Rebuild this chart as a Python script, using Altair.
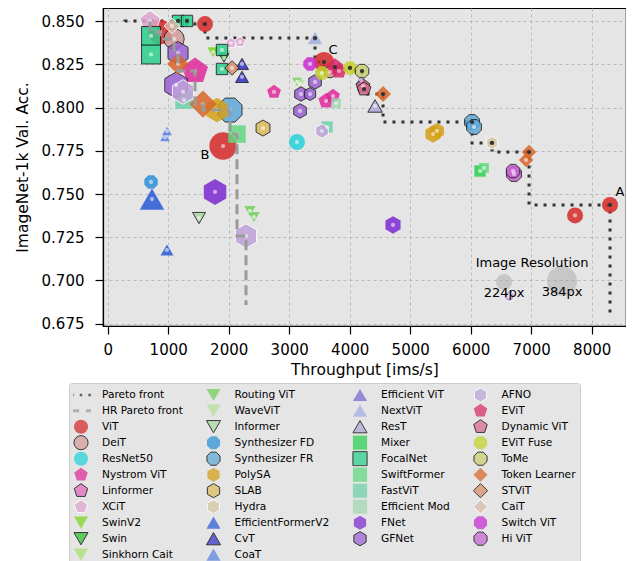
import altair as alt
import pandas as pd

# ---------------- legend columns (as in the reference) ----------------
col1 = ["Pareto front", "HR Pareto front", "ViT", "DeiT", "ResNet50", "Nystrom ViT",
        "Linformer", "XCiT", "SwinV2", "Swin", "Sinkhorn Cait"]
col2 = ["Routing ViT", "WaveViT", "Informer", "Synthesizer FD", "Synthesizer FR", "PolySA",
        "SLAB", "Hydra", "EfficientFormerV2", "CvT", "CoaT"]
col3 = ["Efficient ViT", "NextViT", "ResT", "Mixer", "FocalNet", "SwiftFormer", "FastViT",
        "Efficient Mod", "FNet", "GFNet"]
col4 = ["AFNO", "EViT", "Dynamic ViT", "EViT Fuse", "ToMe", "Token Learner", "STViT",
        "CaiT", "Switch ViT", "Hi ViT"]

# ---------------- data points ----------------
pt_model = [
    "XCiT", "ViT", "FocalNet", "FocalNet", "CaiT", "DeiT", "FocalNet", "FocalNet", "GFNet", "Token Learner",
    "Nystrom ViT", "GFNet", "AFNO", "FastViT", "Token Learner", "PolySA", "Synthesizer FR", "SwiftFormer", "ViT", "CoaT",
    "CoaT", "SLAB", "ResNet50", "ViT", "XCiT", "XCiT", "SwinV2", "FocalNet", "FocalNet", "Swin",
    "STViT", "CvT", "CvT", "Nystrom ViT", "Switch ViT", "GFNet", "GFNet", "GFNet", "GFNet", "Routing ViT",
    "ViT", "EViT Fuse", "DeiT", "EViT", "EViT", "EViT Fuse", "ToMe", "Efficient ViT", "Dynamic ViT", "Dynamic ViT",
    "Token Learner", "ResT", "Nystrom ViT", "Nystrom ViT", "Efficient Mod", "AFNO", "FastViT", "NextViT", "PolySA", "PolySA",
    "Synthesizer FR", "Synthesizer FR", "Hydra", "Token Learner", "Token Learner", "Mixer", "SwiftFormer", "Hi ViT", "Hi ViT", "ViT",
    "ViT", "AFNO", "FNet", "Synthesizer FD", "EfficientFormerV2", "FNet", "Informer", "EfficientFormerV2", "Routing ViT", "Routing ViT",
    "AFNO", "WaveViT"]
pt_throughput = [
    699, 865, 716, 716, 1063, 1096, 1162, 1311, 1162, 1162,
    1443, 1129, 1245, 1261, 1575, 1807, 2022, 2137, 1906, 980,
    947, 2567, 3129, 1608, 2038, 2187, 1741, 1889, 1889, 1922,
    2055, 2220, 2220, 2749, 3344, 3427, 3195, 3344, 3179, 3129,
    3575, 3542, 3675, 3757, 3823, 4005, 4204, 4187, 4220, 4237,
    4551, 4419, 3609, 3724, 3774, 3542, 3625, 3427, 5377, 5443,
    6022, 6055, 6353, 6964, 6915, 6154, 6220, 6716, 6700, 7725,
    8303, 6634, 4716, 716, 732, 1774, 1509, 980, 2352, 2418,
    2286, 3179]
pt_acc = [
    0.8500, 0.8438, 0.8415, 0.8308, 0.8473, 0.8398, 0.8502, 0.8502, 0.8316, 0.8253,
    0.8212, 0.8131, 0.8091, 0.8044, 0.8021, 0.7986, 0.7986, 0.7847, 0.7778, 0.7865,
    0.7830, 0.7882, 0.7801, 0.8484, 0.8374, 0.8380, 0.8322, 0.8334, 0.8224, 0.8288,
    0.8230, 0.8253, 0.8178, 0.8091, 0.8253, 0.8149, 0.8079, 0.8079, 0.7981, 0.8149,
    0.8264, 0.8201, 0.8206, 0.8235, 0.8212, 0.8230, 0.8212, 0.8160, 0.8125, 0.8108,
    0.8079, 0.8010, 0.8039, 0.8067, 0.8027, 0.7865, 0.7888, 0.8403, 0.7847, 0.7865,
    0.7917, 0.7888, 0.7796, 0.7743, 0.7697, 0.7633, 0.7651, 0.7616, 0.7633, 0.7376,
    0.7437, 0.6909, 0.7321, 0.7570, 0.7471, 0.7512, 0.7361, 0.7176, 0.7402, 0.7367,
    0.7257, 0.8137]
pt_res = [
    288, 320, 256, 256, 224, 272, 176, 176, 304, 288,
    352, 336, 320, 240, 352, 320, 336, 240, 352, 160,
    160, 224, 224, 224, 176, 176, 176, 176, 176, 160,
    208, 192, 192, 208, 208, 208, 208, 192, 208, 160,
    272, 208, 176, 240, 224, 208, 208, 176, 208, 208,
    224, 208, 224, 208, 160, 208, 176, 208, 240, 224,
    224, 224, 192, 208, 208, 176, 160, 224, 208, 224,
    224, 176, 240, 208, 320, 336, 192, 192, 176, 176,
    320, 160]
pt_front = [
    0, 0, 0, 0, 0, 0, 1, 1, 0, 0,
    0, 0, 0, 0, 0, 0, 0, 0, 0, 0,
    0, 0, 0, 1, 0, 0, 0, 0, 0, 0,
    0, 0, 0, 0, 0, 0, 0, 0, 0, 0,
    1, 0, 0, 1, 0, 1, 1, 0, 0, 1,
    1, 0, 0, 0, 0, 0, 0, 1, 0, 0,
    1, 0, 1, 1, 0, 0, 0, 0, 0, 0,
    1, 0, 0, 0, 0, 0, 0, 0, 0, 0,
    0, 0]

# Pareto fronts
pareto_x = [286, 1162, 1311, 1608, 3427, 3575, 3757, 4005, 4204, 4237, 4551, 6022, 6353, 6964, 8303, 8303]
pareto_y = [0.8499, 0.8502, 0.8502, 0.8484, 0.8403, 0.8264, 0.8235, 0.8230, 0.8212, 0.8108,
            0.8079, 0.7917, 0.7796, 0.7743, 0.7437, 0.6783]
hr_x = [699, 865, 1096, 1162, 1443, 1575, 2022, 2137, 2286, 2286]
hr_y = [0.8500, 0.8438, 0.8398, 0.8316, 0.8212, 0.8021, 0.7986, 0.7847, 0.7257, 0.6857]

# annotations
ann_text = ["A", "B", "C"]
ann_x = [8469, 1608, 3725]
ann_y = [0.7512, 0.7726, 0.8334]

res_demo_res = [224, 384]
res_demo_x = [6551, 7510]
res_demo_y = [0.6991, 0.6996]
res_demo_label = ["224px", "384px"]
res_title = "Image Resolution"
res_title_x = 7014
res_title_y = 0.7101

# ---------------- styles ----------------
PENT = "M0,-1L0.951,-0.309L0.588,0.809L-0.588,0.809L-0.951,-0.309Z"
HEX = "M0,-1L0.866,-0.5L0.866,0.5L0,1L-0.866,0.5L-0.866,-0.5Z"
OCT = ("M-0.383,-0.924L0.383,-0.924L0.924,-0.383L0.924,0.383L0.383,0.924L-0.383,0.924"
       "L-0.924,0.383L-0.924,-0.383Z")


def rect(x0, x1, h):
    return f"M{x0},{-h}L{x1},{-h}L{x1},{h}L{x0},{h}Z"


DOTS = " ".join([rect(-1.4, -1.04, 0.19), rect(-0.18, 0.18, 0.19), rect(1.04, 1.4, 0.19)])
DASH = " ".join([rect(-1.4, -0.25, 0.21), rect(0.7, 1.4, 0.21)])
K = "#1a1a1a"
N = "transparent"
W = "#ffffff"
BLANK = " "
style = {
    "Pareto front": ("#333333", DOTS, N),
    "HR Pareto front": ("#9a9a9a", DASH, N),
    "ViT": ("#d62a2a", "circle", N),
    "DeiT": ("#d49a9a", "circle", K),
    "ResNet50": ("#25d3d9", "circle", N),
    "Nystrom ViT": ("#e0289a", PENT, N),
    "Linformer": ("#e066c0", PENT, K),
    "XCiT": ("#dda6cf", PENT, W),
    "SwinV2": ("#7ed321", "triangle-down", N),
    "Swin": ("#2ec02e", "triangle-down", K),
    "Sinkhorn Cait": ("#a6e06a", "triangle-down", N),
    "Routing ViT": ("#72d05a", "triangle-down", N),
    "WaveViT": ("#b5e09a", "triangle-down", N),
    "Informer": ("#a8d8a0", "triangle-down", K),
    "Synthesizer FD": ("#2a90d8", OCT, N),
    "Synthesizer FR": ("#5fa8d8", OCT, K),
    "PolySA": ("#d4a017", HEX, N),
    "SLAB": ("#dcba5a", HEX, K),
    "Hydra": ("#d6c8a0", HEX, W),
    "EfficientFormerV2": ("#2a5ad8", "triangle-up", N),
    "CvT": ("#3030c8", "triangle-up", K),
    "CoaT": ("#5a82e0", "triangle-up", N),
    "Efficient ViT": ("#7a68d0", "triangle-up", N),
    "NextViT": ("#a2b0e0", "triangle-up", N),
    "ResT": ("#b0a8d8", "triangle-up", K),
    "Mixer": ("#2ad050", "square", N),
    "FocalNet": ("#2ad08c", "square", K),
    "SwiftFormer": ("#62d880", "square", N),
    "FastViT": ("#6fd0a8", "square", N),
    "Efficient Mod": ("#a0d8b0", "square", N),
    "FNet": ("#7b2ad0", HEX, N),
    "GFNet": ("#9a62d4", HEX, K),
    "AFNO": ("#c0a2d8", HEX, W),
    "EViT": ("#d82a6a", PENT, N),
    "Dynamic ViT": ("#d86a90", PENT, K),
    "EViT Fuse": ("#c4d22a", OCT, N),
    "ToMe": ("#c8d070", OCT, K),
    "Token Learner": ("#d8662a", "diamond", N),
    "STViT": ("#d8906a", "diamond", K),
    "CaiT": ("#d8b8a8", "diamond", W),
    "Switch ViT": ("#c82ad2", OCT, N),
    "Hi ViT": ("#c864d2", OCT, K),
    BLANK: (N, "circle", N),
}

# Vega fills legend columns top-to-bottom; a blank slot keeps column 3 at 10 entries
legend_order = col1 + col2 + col3 + [BLANK] + col4
draw_rank = {m: k for k, m in enumerate(col1 + col2 + col3 + col4)}

fill_range = [style[m][0] for m in legend_order]
shape_range = [style[m][1] for m in legend_order]
stroke_range = [style[m][2] for m in legend_order]

df = pd.DataFrame({"model": pt_model, "throughput": pt_throughput, "acc": pt_acc,
                   "res": pt_res, "front": pt_front})
df["draw"] = [draw_rank[m] * 100 + i for i, m in enumerate(df["model"])]
df = df.sort_values("draw").reset_index(drop=True)

pareto_df = pd.DataFrame({"throughput": pareto_x, "acc": pareto_y, "i": range(len(pareto_x))})
hr_df = pd.DataFrame({"throughput": hr_x, "acc": hr_y, "i": range(len(hr_x))})
ann_df = pd.DataFrame({"throughput": ann_x, "acc": ann_y, "t": ann_text})
demo_df = pd.DataFrame({"throughput": res_demo_x, "acc": res_demo_y, "res": res_demo_res,
                        "t": res_demo_label})
demo_title_df = pd.DataFrame({"throughput": [res_title_x], "acc": [res_title_y], "t": [res_title]})

FONT = "DejaVu Sans"
xscale = alt.Scale(domain=[-78, 8567], nice=False, zero=False)
yscale = alt.Scale(domain=[0.6736, 0.8577], nice=False, zero=False)
xaxis = alt.Axis(values=[0, 1000, 2000, 3000, 4000, 5000, 6000, 7000, 8000], format="d",
                 title="Throughput [ims/s]", labelPadding=8, titlePadding=5, labelFlush=False)
yaxis = alt.Axis(values=[0.675, 0.7, 0.725, 0.75, 0.775, 0.8, 0.825, 0.85], format=".3f",
                 title="ImageNet-1k Val. Acc.", labelPadding=11, titleX=-81, titleY=159,
                 titleAngle=-90, titleAlign="center", titleBaseline="middle")
X = alt.X("throughput:Q", scale=xscale, axis=xaxis)
Y = alt.Y("acc:Q", scale=yscale, axis=yaxis)
size_scale = alt.Scale(type="pow", exponent=2, domain=[224, 384], range=[256, 900], zero=False)

legend = alt.Legend(title=None, orient="none", legendX=-34, legendY=375, columns=4,
                    direction="vertical", symbolLimit=0, clipHeight=15.4,
                    symbolSize=200, labelFont=FONT, labelFontSize=10.6, labelColor="black",
                    labelLimit=300, labelOffset=13, columnPadding=22.5, rowPadding=0,
                    padding=4, fillColor="#e5e5e5", strokeColor="#cccccc", cornerRadius=3,
                    symbolOpacity=1, symbolStrokeWidth=1)

pareto_line = alt.Chart(pareto_df).mark_line(
    interpolate="step-before", color="#333333", strokeWidth=3, strokeDash=[3, 6], strokeCap="butt"
).encode(x=X, y=Y, order="i:Q")

hr_line = alt.Chart(hr_df).mark_line(
    interpolate="step-before", color="#9a9a9a", strokeWidth=3, strokeDash=[10, 5], strokeCap="butt"
).encode(x=X, y=Y, order="i:Q")

demo_pts = alt.Chart(demo_df).mark_circle(color="#9a9a9a", opacity=0.4).encode(
    x=X, y=Y, size=alt.Size("res:Q", scale=size_scale, legend=None))

points = alt.Chart(df).mark_point(filled=True, opacity=0.85, strokeWidth=1).encode(
    x=X, y=Y,
    fill=alt.Fill("model:N", scale=alt.Scale(domain=legend_order, range=fill_range), legend=legend),
    shape=alt.Shape("model:N", scale=alt.Scale(domain=legend_order, range=shape_range)),
    stroke=alt.Stroke("model:N", scale=alt.Scale(domain=legend_order, range=stroke_range)),
    size=alt.Size("res:Q", scale=size_scale, legend=None),
    order=alt.Order("draw:Q"),
)

dots = alt.Chart(df).mark_circle(size=18).encode(
    x=X, y=Y,
    color=alt.condition("datum.front == 1", alt.value("#333333"), alt.value("#ffffff")),
    opacity=alt.condition("datum.front == 1", alt.value(1.0), alt.value(0.55)),
    order=alt.Order("draw:Q"),
)

ann = alt.Chart(ann_df).mark_text(font=FONT, fontSize=13, color="black").encode(x=X, y=Y, text="t:N")
demo_txt = alt.Chart(demo_df).mark_text(font=FONT, fontSize=13, color="black", dy=11).encode(
    x=X, y=Y, text="t:N")
demo_title = alt.Chart(demo_title_df).mark_text(font=FONT, fontSize=13, color="black").encode(
    x=X, y=Y, text="t:N")

chart = alt.layer(
    pareto_line, demo_pts, points, dots, hr_line, ann, demo_txt, demo_title
).properties(
    width=523, height=318,
    autosize=alt.AutoSizeParams(type="none"),
    padding={"left": 95, "top": 0, "right": 0, "bottom": 235},
).configure_view(
    fill="#e5e5e5", stroke="black", strokeWidth=1.2
).configure_axis(
    labelFont=FONT, titleFont=FONT, labelFontSize=15, titleFontSize=15.5,
    titleFontWeight="normal", labelColor="black", titleColor="black",
    tickColor="black", domainColor="black", domainWidth=1.2, tickWidth=1.2, tickSize=8,
    gridColor="#b0b0b0", gridDash=[3, 3], gridWidth=0.8
)

chart.save("out.html", embed_options={"renderer": "svg", "actions": False})
